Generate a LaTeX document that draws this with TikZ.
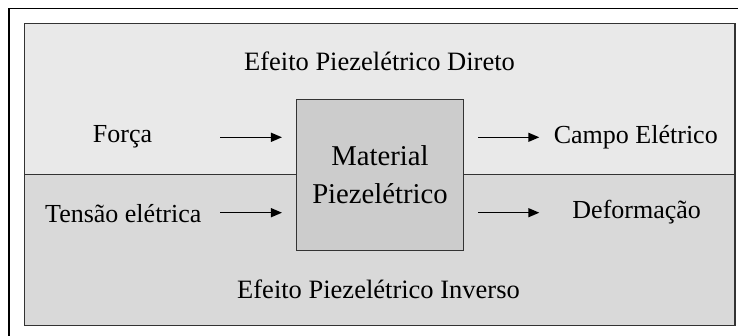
\documentclass[tikz,border=0pt]{standalone}
\usepackage{fontspec}
\setmainfont{Liberation Serif}
\usetikzlibrary{arrows.meta}

\definecolor{diretofill}{HTML}{E9E9E9}
\definecolor{inversofill}{HTML}{D9D9D9}
\definecolor{materialfill}{HTML}{CCCCCC}
\definecolor{linegray}{HTML}{333333}

\begin{document}
\begin{tikzpicture}[x=1pt,y=-1pt,
    frame/.style={draw=linegray,line width=1.5pt},
    lbl/.style={font=\fontsize{26}{30}\selectfont,anchor=base,inner sep=0pt},
    title/.style={lbl,font=\fontsize{26.5}{30}\selectfont},
    arr/.style={line width=1.4pt,-{Triangle[length=11pt,width=9pt]}}]
   \useasboundingbox (0,0) rectangle (738,336);
   \clip (0,0) rectangle (738,336);
   % outer frame
   \draw[line width=1.6pt] (9,8.5) rectangle (760,360);
   % direto / inverso
   \fill[diretofill] (24.5,23.5) rectangle (735,174.5);
   \fill[inversofill] (24.5,174.5) rectangle (735,325.5);
   \draw[frame] (24.5,174.5) -- (735,174.5);
   \draw[frame] (24.5,23.5) rectangle (735,325.5);
   \node[title] (direto) at (379.5,71) {Efeito Piezelétrico Direto};
   \node[title] (inverso) at (378.5,298.3) {Efeito Piezelétrico Inverso};
   % material
   \node (mat) at (380,175) [frame,fill=materialfill,minimum width=166.6pt,
      minimum height=151.4pt,align=center,
      font=\fontsize{28.7}{37.7}\selectfont] {Material\\Piezelétrico};
   % inputs
   \node[lbl] (forca) at (122.5,142.7) {Força};
   \node[lbl] (tensao) at (123.3,222.3) {Tensão elétrica};
   \coordinate (forcaarr) at (220,137.3);
   \coordinate (tensaoarr) at (220,212.7);
   \draw[arr,shorten >=14pt] (forcaarr) -- (forcaarr -| mat.west);
   \draw[arr,shorten >=14pt] (tensaoarr) -- (tensaoarr -| mat.west);
   % outputs
   \node[lbl] (campo) at (635.8,143.3) {Campo Elétrico};
   \node[lbl] (deform) at (636.7,218.3) {Deformação};
   \coordinate (campoarr) at (539.3,137.3);
   \coordinate (deformarr) at (539.3,212.7);
   \draw[arr,shorten <=14.4pt] (campoarr -| mat.east) -- (campoarr);
   \draw[arr,shorten <=14.4pt] (deformarr -| mat.east) -- (deformarr);
\end{tikzpicture}
\end{document}
